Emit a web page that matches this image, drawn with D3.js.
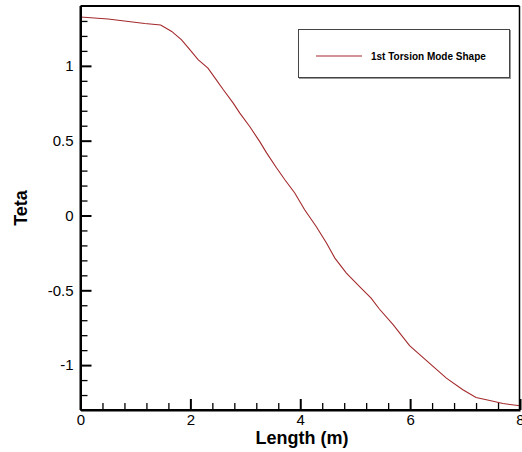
<!DOCTYPE html>
<html>
<head>
<meta charset="utf-8">
<script src="https://cdn.jsdelivr.net/npm/d3@7"></script>
<style>
  html, body { margin: 0; padding: 0; background: #fff; }
  svg { display: block; font-family: "Liberation Sans", Arial, sans-serif; }
</style>
</head>
<body>
<svg id="chart" width="522" height="452"></svg>
<script>
// Torsion mode shape along the beam
const lengthM = [0, 0.5, 0.8, 1.17, 1.46, 1.66, 1.84, 1.99, 2.14, 2.32, 2.45, 2.6, 2.78, 2.9,
  3.08, 3.26, 3.39, 3.57, 3.72, 3.9, 4.08, 4.29, 4.48, 4.63, 4.84, 5.08, 5.29, 5.44,
  5.69, 5.99, 6.35, 6.66, 6.96, 7.2, 7.45, 7.69, 8.0];
const teta = [1.326, 1.313, 1.30, 1.283, 1.273, 1.23, 1.174, 1.108, 1.041, 0.985, 0.918, 0.84,
  0.751, 0.684, 0.595, 0.495, 0.417, 0.317, 0.239, 0.15, 0.038, -0.074, -0.185, -0.285,
  -0.385, -0.475, -0.552, -0.625, -0.73, -0.87, -0.987, -1.087, -1.165, -1.216, -1.237,
  -1.257, -1.272];

const xMajorTicks = [0, 2, 4, 6, 8];
const xMinorTicks = [0.4, 0.8, 1.2, 1.6, 2.4, 2.8, 3.2, 3.6, 4.4, 4.8, 5.2, 5.6, 6.4, 6.8, 7.2, 7.6];
const yMajorTicks = [-1, -0.5, 0, 0.5, 1];
const yMinorTicks = [-1.2, -1.1, -0.9, -0.8, -0.7, -0.6, -0.4, -0.3, -0.2, -0.1,
  0.1, 0.2, 0.3, 0.4, 0.6, 0.7, 0.8, 0.9, 1.1, 1.2, 1.3];

const seriesName = "1st Torsion Mode Shape";
const xTitle = "Length (m)";
const yTitle = "Teta";

const svg = d3.select("#chart");
const plotLeft = 80.5, plotRight = 519.5, plotTop = 6, plotBottom = 410;

const x = d3.scaleLinear().domain([0, 8]).range([plotLeft, plotRight + 0.5]);
const y = d3.scaleLinear().domain([-1.3, 1.4]).range([plotBottom, plotTop]);

const lineColor = "#a3292c";

// curve
const line = d3.line().x(d => x(d[0])).y(d => y(d[1]));
svg.append("path")
  .datum(lengthM.map((v, i) => [v, teta[i]]))
  .attr("d", line)
  .attr("fill", "none")
  .attr("stroke", lineColor)
  .attr("stroke-width", 1.1);

// frame top and right
svg.append("line").attr("x1", plotLeft).attr("x2", plotRight).attr("y1", plotTop).attr("y2", plotTop)
  .attr("stroke", "#000").attr("stroke-width", 2);
svg.append("line").attr("x1", plotRight).attr("x2", plotRight).attr("y1", plotTop).attr("y2", plotBottom)
  .attr("stroke", "#000").attr("stroke-width", 1.5);

function styleAxis(g, w) {
  g.select(".domain").attr("stroke", "#000").attr("stroke-width", 2);
  g.selectAll(".tick line").attr("stroke", "#000").attr("stroke-width", w);
  g.selectAll(".tick text").attr("fill", "#000").style("font-size", "15px")
    .style("font-family", "'Liberation Sans', Arial, sans-serif");
}

// minor ticks
const gxm = svg.append("g").attr("transform", `translate(0,${plotBottom})`)
  .call(d3.axisBottom(x).tickValues(xMinorTicks).tickSize(-7).tickSizeOuter(0).tickFormat(""));
styleAxis(gxm, 1.3);
const gym = svg.append("g").attr("transform", `translate(${plotLeft},0)`)
  .call(d3.axisLeft(y).tickValues(yMinorTicks).tickSize(-7).tickSizeOuter(0).tickFormat(""));
styleAxis(gym, 1.3);

// major ticks with labels
const gx = svg.append("g").attr("transform", `translate(0,${plotBottom})`)
  .call(d3.axisBottom(x).tickValues(xMajorTicks).tickSize(-11).tickSizeOuter(0)
    .tickPadding(4).tickFormat(d3.format("d")));
styleAxis(gx, 2);
const gy = svg.append("g").attr("transform", `translate(${plotLeft},0)`)
  .call(d3.axisLeft(y).tickValues(yMajorTicks).tickSize(-11).tickSizeOuter(0)
    .tickPadding(7).tickFormat(d => d === 0 ? "0" : String(d)));
styleAxis(gy, 2);
gy.select(".domain").attr("d", `M0,${plotTop}V${plotBottom}`);
gx.select(".domain").attr("d", `M${plotLeft},0H${plotRight}`);

// axis titles
svg.append("text")
  .attr("x", (plotLeft + plotRight) / 2 + 2).attr("y", 444)
  .attr("text-anchor", "middle")
  .style("font-size", "18px").style("font-weight", "bold")
  .text(xTitle);
svg.append("text")
  .attr("transform", `translate(27,208) rotate(-90)`)
  .attr("text-anchor", "middle")
  .style("font-size", "18px").style("font-weight", "bold")
  .text(yTitle);

// legend
const lg = svg.append("g");
lg.append("rect").attr("x", 299.5).attr("y", 30.5).attr("width", 211).attr("height", 48)
  .attr("fill", "none").attr("stroke", "#999").attr("stroke-width", 1);
lg.append("rect").attr("x", 298.5).attr("y", 29.5).attr("width", 211).attr("height", 48)
  .attr("fill", "#fff").attr("stroke", "#444").attr("stroke-width", 1);
lg.append("line").attr("x1", 316).attr("x2", 362).attr("y1", 56).attr("y2", 56)
  .attr("stroke", lineColor).attr("stroke-width", 1.2);
lg.append("text").attr("x", 371).attr("y", 59.5)
  .style("font-size", "10px").style("font-weight", "bold")
  .text(seriesName);
</script>
</body>
</html>
